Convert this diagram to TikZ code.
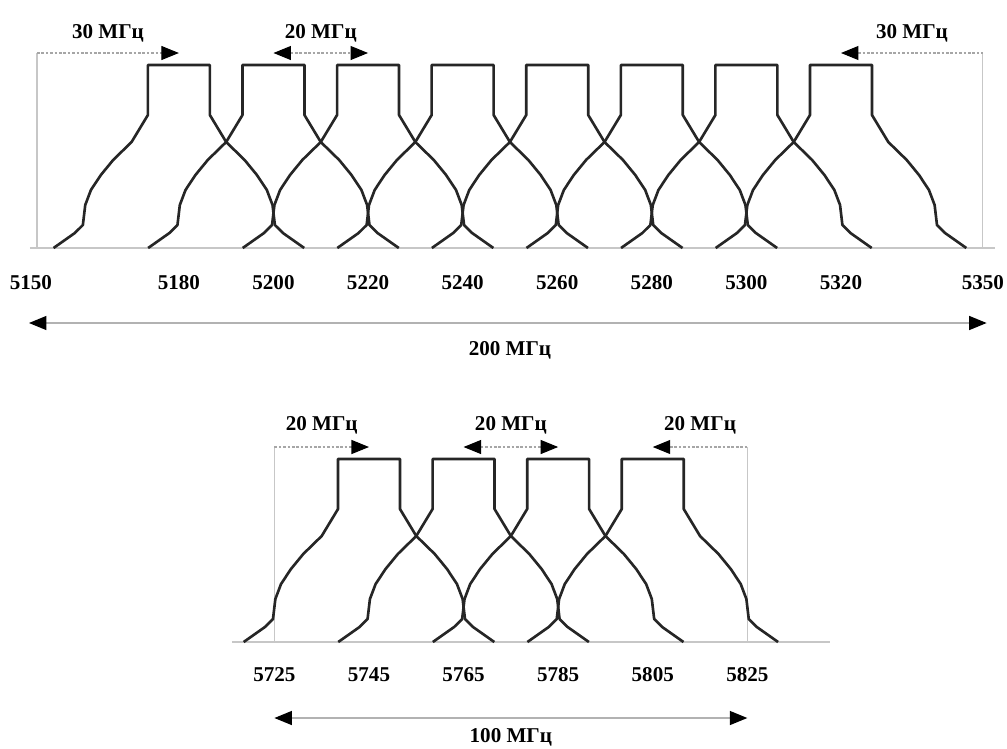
\documentclass[tikz,border=0pt]{standalone}
\usepackage{fontspec}
\setmainfont{Liberation Serif}
\usetikzlibrary{positioning,arrows.meta}

\begin{document}
\begin{tikzpicture}[
		x=0.02cm,y=-0.02cm,
		every node/.style={
				font=\fontsize{12}{14}\selectfont\bfseries,
				inner sep=1pt
			},
		bigtri/.tip={Triangle[length=3.5mm,width=2.8mm,color=black]},
		maskline/.style={draw=black!85,line width=1.5pt,line join=round},
		guide/.style={draw=black!22,line width=0.6pt},
		span/.style={draw=black!35,line width=0.6pt,dash pattern=on 1.5pt off 1pt},
		wide/.style={draw=black!30,line width=0.8pt},
		pics/chmask/.style={code={
						\draw[maskline] (-26.5,0) -- (-22,-15) -- (-20.3,-23) -- (-19.8,-43)
						-- (-18.6,-58) -- (-16.5,-73) -- (-13.9,-88) -- (-10,-106) -- (-6.55,-133)
						-- (-6.55,-183) -- (6.55,-183) -- (6.55,-133) -- (10,-106) -- (13.9,-88)
						-- (16.5,-73) -- (18.6,-58) -- (19.8,-43) -- (20.3,-23)
						-- (22,-15) -- (26.5,0);
					}}
	]

	\useasboundingbox (0,0) rectangle (1007,748);

	% 5150--5350
	\begin{scope}[shift={(37,0)},x=0.0946cm]
		\draw[guide] (-1.5,248) -- (202.5,248);
		\draw[guide] (0,53) -- (0,248);
		\draw[guide] (200,53) -- (200,248);

		\foreach \f in {30,50,...,170}
		\pic at (\f,248) {chmask};

		\foreach \f/\t in {-1.3/5150,30/5180,50/5200,70/5220,90/5240,110/5260,130/5280,150/5300,170/5320,200/5350}
		\node (f\t) at (\f,283) {\t};

		\coordinate (a5150) at (0,53);
		\coordinate (a5180) at (30,53);
		\coordinate (a5200) at (50,53);
		\coordinate (a5220) at (70,53);
		\coordinate (a5320) at (170,53);
		\coordinate (a5350) at (200,53);

		\node (w5150) at (15,33) {30 МГц};
		\node (w5200) at (60,33) {20 МГц};
		\node (w5320) at (185,33) {30 МГц};

		\draw[span,-bigtri] (a5150) -- (a5180);
		\draw[span,bigtri-bigtri] (a5200) -- (a5220);
		\draw[span,bigtri-] (a5320) -- (a5350);

		\coordinate (lowband) at (-1.7,323);
		\coordinate (highband) at (200.8,323);
		\draw[wide,bigtri-bigtri] (lowband) -- (highband);
		\node (total1) at (100,350) {200 МГц};
	\end{scope}

	% 5725--5825
	\begin{scope}[shift={(274.4,0)},x=0.0946cm]
		\draw[guide] (-9,642) -- (117.5,642);
		\draw[guide] (0,447) -- (0,642);
		\draw[guide] (100,447) -- (100,642);

		\foreach \f in {20,40,60,80}
		\pic at (\f,642) {chmask};

		\foreach \f/\t in {0/5725,20/5745,40/5765,60/5785,80/5805,100/5825}
		\node (f\t) at (\f,675) {\t};

		\coordinate (a5725) at (0,447);
		\coordinate (a5745) at (20,447);
		\coordinate (a5765) at (40,447);
		\coordinate (a5785) at (60,447);
		\coordinate (a5805) at (80,447);
		\coordinate (a5825) at (100,447);

		\node (w5725) at (10,425) {20 МГц};
		\node (w5765) at (50,425) {20 МГц};
		\node (w5805) at (90,425) {20 МГц};

		\draw[span,-bigtri] (a5725) -- (a5745);
		\draw[span,bigtri-bigtri] (a5765) -- (a5785);
		\draw[span,bigtri-] (a5805) -- (a5825);

		\coordinate (lowupper) at (0,718);
		\coordinate (highupper) at (100,718);
		\draw[wide,bigtri-bigtri] (lowupper) -- (highupper);
		\node (total2) at (50,737) {100 МГц};
	\end{scope}

\end{tikzpicture}
\end{document}
